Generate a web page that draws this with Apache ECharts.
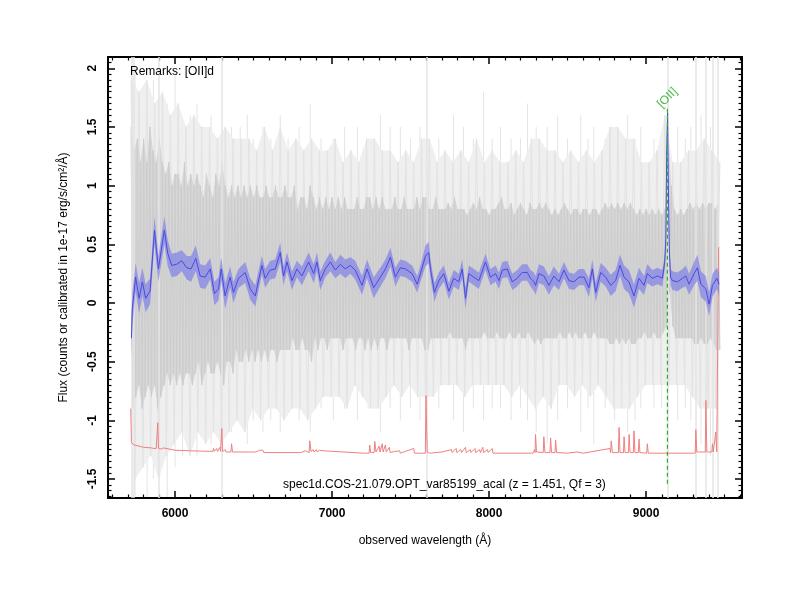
<!DOCTYPE html>
<html>
<head>
<meta charset="utf-8">
<script src="https://cdn.jsdelivr.net/npm/echarts@6/dist/echarts.min.js"></script>
<style>html,body{margin:0;padding:0;background:#fff}#c{width:800px;height:600px}</style>
</head>
<body>
<div id="c"></div>
<script>
// ---- axis ranges ----
const xRange = [5573, 9611];
const yRange = [-1.662, 2.096];

// ---- blue smoothed spectrum (wavelength, flux, 1-sigma) ----
const blueWave = [5722,5728,5749,5771,5792,5813,5841,5869,5894,5932,5954,5979,6011,6043,6075,6102,6132,6160,6192,6224,6251,6277,6294,6319,6351,6372,6404,6447,6479,6511,6553,6574,6606,6638,6670,6691,6713,6745,6776,6808,6851,6883,6904,6925,6957,6989,7021,7053,7084,7116,7148,7191,7223,7265,7308,7340,7372,7403,7435,7467,7510,7542,7563,7595,7616,7627,7652,7680,7712,7744,7775,7807,7829,7850,7871,7903,7935,7977,8009,8041,8063,8084,8116,8148,8179,8211,8243,8264,8286,8296,8318,8349,8381,8413,8445,8477,8509,8541,8573,8605,8636,8658,8679,8711,8743,8775,8806,8834,8860,8891,8923,8955,8987,9008,9040,9072,9104,9119,9126,9131,9137,9142,9148,9156,9168,9200,9232,9253,9274,9306,9327,9349,9380,9402,9423,9451,9465];
const blueFlux = [-0.30,-0.05,0.22,0.04,0.18,0.04,0.10,0.62,0.29,0.62,0.42,0.32,0.33,0.36,0.30,0.29,0.38,0.23,0.22,0.29,0.08,0.12,0.29,0.06,0.22,0.09,0.21,0.26,0.12,0.06,0.32,0.21,0.28,0.29,0.43,0.23,0.35,0.19,0.29,0.23,0.35,0.25,0.35,0.19,0.29,0.35,0.28,0.33,0.29,0.32,0.28,0.15,0.29,0.13,0.22,0.29,0.39,0.22,0.30,0.29,0.25,0.16,0.25,0.40,0.43,0.29,0.09,0.19,0.25,0.10,0.21,0.18,0.29,0.04,0.25,0.22,0.19,0.35,0.22,0.25,0.19,0.28,0.29,0.18,0.21,0.26,0.26,0.21,0.18,0.15,0.25,0.23,0.15,0.23,0.18,0.28,0.19,0.18,0.22,0.22,0.13,0.29,0.09,0.26,0.22,0.15,0.19,0.32,0.22,0.18,0.06,0.21,0.15,0.25,0.21,0.23,0.21,0.35,0.55,1.25,1.62,1.00,0.46,0.22,0.19,0.18,0.21,0.23,0.16,0.25,0.30,0.16,0.12,-0.01,0.15,0.21,0.16];
const blueErr = [0.16,0.14,0.12,0.13,0.12,0.12,0.11,0.12,0.11,0.12,0.11,0.10,0.10,0.09,0.10,0.11,0.11,0.10,0.10,0.09,0.10,0.10,0.10,0.11,0.09,0.09,0.08,0.09,0.09,0.09,0.08,0.08,0.08,0.08,0.08,0.08,0.08,0.08,0.07,0.08,0.08,0.08,0.08,0.08,0.07,0.08,0.07,0.08,0.08,0.07,0.08,0.08,0.08,0.09,0.08,0.08,0.08,0.08,0.07,0.07,0.07,0.07,0.07,0.09,0.09,0.08,0.08,0.07,0.07,0.07,0.07,0.07,0.08,0.09,0.07,0.07,0.07,0.07,0.07,0.07,0.07,0.07,0.07,0.07,0.07,0.07,0.07,0.07,0.08,0.08,0.08,0.08,0.08,0.08,0.07,0.07,0.07,0.07,0.07,0.07,0.08,0.08,0.08,0.08,0.08,0.09,0.09,0.09,0.10,0.10,0.10,0.09,0.08,0.08,0.07,0.07,0.07,0.06,0.06,0.06,0.06,0.06,0.06,0.07,0.08,0.08,0.08,0.09,0.09,0.10,0.11,0.11,0.11,0.10,0.10,0.09,0.10];

// ---- raw gray spectrum (dense core), 10 A grid from 5720 ----
const grayStart = 5720, grayStep = 10;
const grayFlux = [
1.5,-0.9,1.3,-0.8,1.4,-0.7,1.2,-0.9,1.4,-0.8,
1.2,-0.7,1.5,-0.8,1.3,-0.7,1.2,-0.9,1.4,-0.8,
1.2,-0.7,1.1,-0.6,1.2,-0.7,1.0,-0.6,1.1,-0.7,
1.1,-0.6,1.0,-0.7,1.2,-0.6,1.0,-0.6,1.1,-0.7,
1.0,-0.6,1.1,-0.5,1.0,-0.7,0.9,-0.6,1.1,-0.5,
1.0,-0.6,0.9,-0.6,1.1,-0.5,1.0,-0.6,1.2,-0.7,
1.0,-0.5,0.9,-0.5,1.0,-0.6,0.9,-0.4,1.0,-0.5,
0.9,-0.5,1.0,-0.4,0.9,-0.5,1.0,-0.4,0.9,-0.5,
1.0,-0.4,0.9,-0.5,0.9,-0.4,1.0,-0.5,0.9,-0.4,
0.9,-0.4,1.0,-0.5,0.9,-0.4,0.9,-0.4,1.0,-0.4,
0.9,-0.4,0.9,-0.3,1.0,-0.4,0.8,-0.4,0.9,-0.3,
0.9,-0.4,0.8,-0.4,1.0,-0.5,0.9,-0.3,0.8,-0.4,
0.9,-0.3,0.8,-0.3,0.9,-0.4,0.8,-0.3,0.9,-0.3,
0.8,-0.3,0.9,-0.3,0.8,-0.4,0.9,-0.3,0.8,-0.3,
0.8,-0.3,0.8,-0.4,0.9,-0.3,0.8,-0.3,0.8,-0.4,
0.9,-0.3,0.9,-0.4,0.8,-0.3,0.9,-0.4,0.8,-0.3,
0.9,-0.3,0.8,-0.4,0.8,-0.3,0.8,-0.3,0.9,-0.3,
0.8,-0.3,0.8,-0.3,0.9,-0.3,0.8,-0.4,0.8,-0.3,
0.8,-0.3,0.9,-0.3,0.8,-0.3,0.9,-0.4,0.9,-0.4,
0.8,-0.3,0.8,-0.3,0.9,-0.3,0.8,-0.3,0.8,-0.3,
0.8,-0.3,0.85,-0.25,0.8,-0.3,0.9,-0.3,0.8,-0.3,
0.8,-0.3,0.8,-0.4,0.75,-0.3,0.8,-0.3,0.85,-0.3,
0.8,-0.3,0.9,-0.3,0.8,-0.25,0.8,-0.3,0.75,-0.3,
0.8,-0.3,0.8,-0.25,0.85,-0.3,0.9,-0.3,0.8,-0.3,
0.8,-0.25,0.85,-0.3,0.75,-0.3,0.8,-0.25,0.85,-0.3,
0.8,-0.3,0.75,-0.25,0.85,-0.3,0.8,-0.35,0.8,-0.3,
0.85,-0.35,0.8,-0.3,0.85,-0.3,0.8,-0.3,0.75,-0.3,
0.8,-0.3,0.75,-0.25,0.8,-0.3,0.85,-0.3,0.8,-0.25,
0.75,-0.3,0.8,-0.25,0.8,-0.3,0.75,-0.3,0.8,-0.25,
0.8,-0.3,0.75,-0.3,0.8,-0.25,0.8,-0.3,0.75,-0.3,
0.8,-0.3,0.85,-0.3,0.8,-0.35,0.85,-0.35,0.8,-0.3,
0.85,-0.35,0.8,-0.3,0.85,-0.35,0.8,-0.3,0.85,-0.35,
0.8,-0.35,0.75,-0.3,0.8,-0.3,0.75,-0.25,0.8,-0.3,
0.75,-0.3,0.8,-0.25,0.75,-0.3,0.8,-0.3,0.75,-0.25,
0.8,-0.2,1.5,0.1,1.0,-0.2,0.8,-0.3,0.75,-0.3,
0.8,-0.3,0.75,-0.3,0.8,-0.3,0.85,-0.3,0.8,-0.35,
0.85,-0.35,0.8,-0.3,0.85,-0.35,0.8,-0.35,0.85,-0.3,
0.85,-0.35,0.8,-0.4,0.85,-0.4];

// ---- raw gray spectrum (faint outer excursions), 25 A grid from 5720 ----
const faintStart = 5720, faintStep = 25;
const faintFlux = [
1.9,-1.5,1.8,-1.4,1.9,-1.3,1.7,-1.5,1.8,-1.3,
1.6,-1.2,1.7,-1.1,1.5,-1.3,1.6,-1.1,1.5,-1.2,
1.5,-1.1,1.4,-1.2,1.5,-1.1,1.4,-1.0,1.4,-1.1,
1.4,-0.9,1.3,-1.0,1.5,-0.9,1.3,-0.9,1.5,-1.0,
1.3,-0.9,1.4,-0.9,1.3,-1.0,1.4,-0.9,1.3,-0.8,
1.3,-0.8,1.4,-0.8,1.2,-0.9,1.3,-0.7,1.2,-0.8,
1.4,-0.9,1.4,-0.9,1.3,-0.8,1.3,-0.7,1.2,-0.8,
1.3,-0.7,1.2,-0.8,1.4,-0.8,1.4,-0.8,1.2,-0.7,
1.3,-0.7,1.2,-0.7,1.3,-0.8,1.2,-0.7,1.4,-0.7,
1.2,-0.7,1.3,-0.7,1.2,-0.7,1.2,-0.8,1.3,-0.7,
1.2,-0.8,1.4,-0.9,1.4,-0.8,1.3,-0.9,1.3,-0.7,
1.2,-0.7,1.3,-0.8,1.2,-0.7,1.3,-0.8,1.2,-0.7,
1.3,-0.8,1.5,-0.9,1.5,-0.9,1.4,-0.9,1.4,-0.8,
1.2,-0.7,1.2,-0.7,1.3,-0.7,1.6,-0.7,1.2,-0.7,
1.2,-0.7,1.3,-0.8,1.3,-0.9,1.4,-0.9,1.3,-0.9,1.2];

// ---- isolated noise spikes (wavelength, top, bottom) ----
const spikeWave = [5745,5822,5862,5950,6000,6048,6096,6140,6179,6230,6360,6415,6460,6498,6560,6610,6670,6720,6790,6861,6930,7008,7080,7161,7230,7308,7370,7435,7500,7560,7680,7773,7837,7900,7965,8020,8073,8140,8200,8245,8300,8370,8437,8500,8584,8630,8667,8740,8800,8883,8930,8966,9050,9100,9202,9250,9285,9350,9410];
const spikeHi = [2.0,1.8,1.9,1.7,2.0,1.5,1.6,1.7,1.5,1.6,1.5,1.5,1.6,1.4,1.5,1.4,1.6,1.4,1.5,1.7,1.4,1.4,1.5,1.5,1.4,1.6,1.5,1.5,1.4,1.5,1.4,1.6,1.5,1.4,1.8,1.4,1.5,1.4,1.4,1.7,1.5,1.5,1.6,1.4,1.6,1.4,1.5,1.4,1.5,1.6,1.4,1.5,1.4,1.4,1.5,1.4,1.5,1.6,1.5];
const spikeLo = [-1.66,-1.66,-1.5,-1.66,-1.4,-1.3,-1.2,-1.3,-1.1,-1.2,-1.1,-1.0,-1.2,-1.0,-1.1,-1.0,-1.1,-0.9,-1.0,-1.1,-0.9,-1.0,-0.9,-1.0,-0.9,-1.1,-0.9,-1.0,-0.9,-1.0,-0.9,-1.0,-1.1,-0.9,-1.0,-0.9,-0.9,-1.0,-0.9,-1.0,-1.1,-1.2,-1.0,-0.9,-1.1,-0.9,-1.2,-0.9,-1.0,-1.1,-1.0,-0.9,-0.9,-0.9,-1.0,-0.9,-1.0,-1.2,-1.3];

// ---- sky-line residuals spanning the full plot height ----
const skyWave = [5725, 5740, 5895, 6300, 7605, 9136, 9317, 9381, 9424, 9456];

// ---- red error spectrum ----
const redWave = [5718,5722,5740,5800,5850,5860,5865,5875,5880,5886,5890,5895,5905,5910,5925,5930,6000,6100,6240,6245,6250,6265,6270,6285,6290,6294,6298,6303,6320,6325,6356,6360,6366,6500,6510,6515,6540,6545,6560,6565,6800,6830,6835,6854,6858,6866,6880,6885,6900,6905,6920,6925,6950,6955,7200,7236,7240,7246,7268,7272,7280,7300,7305,7320,7325,7340,7345,7365,7370,7400,7405,7430,7435,7520,7525,7594,7598,7606,7620,7700,7760,7765,7790,7795,7820,7825,7850,7855,7880,7885,7910,7915,7940,7945,7960,7965,7990,7995,8020,8025,8280,8290,8293,8296,8302,8345,8349,8356,8388,8392,8398,8420,8424,8430,8500,8560,8600,8770,8774,8778,8786,8824,8828,8834,8856,8860,8866,8888,8892,8898,8919,8923,8929,8951,8955,8961,9004,9008,9014,9300,9313,9317,9323,9340,9377,9381,9387,9400,9419,9423,9428,9440,9444,9450,9458,9462,9468];
const redFlux = [-0.90,-1.19,-1.21,-1.23,-1.235,-1.22,-1.24,-1.23,-1.24,-1.24,-1.02,-1.24,-1.23,-1.245,-1.235,-1.25,-1.255,-1.26,-1.265,-1.24,-1.265,-1.24,-1.265,-1.23,-1.265,-1.265,-1.07,-1.265,-1.25,-1.27,-1.27,-1.20,-1.27,-1.27,-1.255,-1.27,-1.255,-1.27,-1.255,-1.275,-1.275,-1.26,-1.275,-1.275,-1.175,-1.265,-1.25,-1.27,-1.25,-1.27,-1.255,-1.27,-1.26,-1.275,-1.28,-1.28,-1.21,-1.275,-1.275,-1.18,-1.27,-1.22,-1.27,-1.20,-1.27,-1.21,-1.27,-1.23,-1.275,-1.265,-1.28,-1.26,-1.28,-1.24,-1.28,-1.28,-0.79,-1.27,-1.28,-1.27,-1.25,-1.275,-1.24,-1.275,-1.25,-1.275,-1.23,-1.275,-1.25,-1.275,-1.24,-1.275,-1.25,-1.275,-1.23,-1.275,-1.25,-1.275,-1.24,-1.28,-1.28,-1.25,-1.275,-1.12,-1.27,-1.275,-1.14,-1.275,-1.275,-1.15,-1.275,-1.275,-1.17,-1.275,-1.28,-1.27,-1.28,-1.24,-1.275,-1.175,-1.275,-1.275,-1.06,-1.275,-1.275,-1.14,-1.275,-1.275,-1.12,-1.275,-1.275,-1.09,-1.275,-1.275,-1.16,-1.275,-1.28,-1.20,-1.28,-1.28,-1.28,-1.08,-1.27,-1.27,-1.27,-0.83,-1.27,-1.27,-1.27,-1.20,-1.27,-1.27,-1.10,-1.27,-1.27,0.47,0.47];

// ---- emission line marker ----
const lineWave = 9136;
const lineY = [-1.54, 1.67];
const lineName = '[OII]';

const remarks = 'Remarks: [OII]d';
const specTitle = 'spec1d.COS-21.079.OPT_var85199_acal (z = 1.451, Qf = 3)';
const xName = 'observed wavelength (Å)';
const yName = 'Flux (counts or calibrated in 1e-17 erg/s/cm²/Å)';

// ---- build series data ----
const grayData = grayFlux.map((v, i) => [grayStart + i * grayStep, v]);
const faintData = faintFlux.map((v, i) => [faintStart + i * faintStep, v]);
const spikeData = spikeWave.map((w, i) => [w, spikeHi[i], spikeLo[i]]);
const blueData = blueWave.map((w, i) => [w, blueFlux[i]]);
const redData = redWave.map((w, i) => [w, redFlux[i]]);

const FONT = '"Liberation Sans", Arial, Helvetica, sans-serif';
const chart = echarts.init(document.getElementById('c'), null, {renderer: 'canvas'});

function isMult(v, step) { const r = v / step; return Math.abs(r - Math.round(r)) < 1e-6; }

// polygon filling between the upper and lower excursions of a zigzag spectrum
function envelopeItem(data, fill) {
  return function (params, api) {
    const up = [], lo = [];
    data.forEach((d, i) => { (i % 2 === 0 ? up : lo).push(api.coord(d)); });
    return {type: 'polygon', shape: {points: up.concat(lo.reverse())}, style: {fill: fill, stroke: null}};
  };
}

const axisCommon = {
  axisLine: {show: true, onZero: false, lineStyle: {color: '#000', width: 2}},
  axisTick: {show: true, inside: true, length: 7, lineStyle: {color: '#000', width: 1.5}},
  minorTick: {show: true, splitNumber: 10, length: 3.5, lineStyle: {color: '#000', width: 1.2}},
  splitLine: {show: false},
  minorSplitLine: {show: false}
};

const option = {
  animation: false,
  backgroundColor: '#fff',
  grid: {left: 108, right: 58, top: 57, bottom: 102, containLabel: false},
  xAxis: [
    Object.assign({}, axisCommon, {
      type: 'value', min: xRange[0], max: xRange[1], splitNumber: 4, position: 'bottom',
      name: xName, nameLocation: 'middle', nameGap: 37,
      nameTextStyle: {fontFamily: FONT, fontSize: 12, color: '#000'},
      axisLabel: {show: true, margin: 10, color: '#000', fontFamily: FONT, fontSize: 12, fontWeight: 'bold',
        formatter: v => isMult(v, 1000) ? String(v) : ''}
    }),
    Object.assign({}, axisCommon, {
      type: 'value', min: xRange[0], max: xRange[1], splitNumber: 4, position: 'top',
      axisLabel: {show: false}
    })
  ],
  yAxis: [
    Object.assign({}, axisCommon, {
      type: 'value', min: yRange[0], max: yRange[1], splitNumber: 7, position: 'left',
      name: yName, nameLocation: 'middle', nameGap: 38, nameRotate: 90,
      nameTextStyle: {fontFamily: FONT, fontSize: 12, color: '#000'},
      axisLabel: {show: true, rotate: 90, margin: 9, color: '#000', fontFamily: FONT, fontSize: 12, fontWeight: 'bold',
        formatter: v => isMult(v, 0.5) ? String(Math.round(v * 10) / 10) : ''}
    }),
    Object.assign({}, axisCommon, {
      type: 'value', min: yRange[0], max: yRange[1], splitNumber: 7, position: 'right',
      axisLabel: {show: false}
    })
  ],
  series: [
    {
      name: 'spikes', type: 'custom', z: 0, silent: true, data: spikeData,
      renderItem: function (params, api) {
        const a = api.coord([api.value(0), api.value(1)]);
        const b = api.coord([api.value(0), api.value(2)]);
        return {type: 'line', shape: {x1: a[0], y1: a[1], x2: b[0], y2: b[1]}, style: {stroke: '#e4e4e4', lineWidth: 1}};
      }
    },
    {
      name: 'faintFill', type: 'custom', z: 1, silent: true, data: [faintData[0]],
      renderItem: envelopeItem(faintData, '#efefef')
    },
    {
      name: 'faint', type: 'line', data: faintData, showSymbol: false, symbol: 'none',
      lineStyle: {color: '#e3e3e3', width: 1}, z: 2, silent: true,
      markLine: {
        silent: true, symbol: ['none', 'none'], label: {show: false},
        lineStyle: {color: '#e4e4e4', width: 1.5, type: 'solid'},
        data: skyWave.map(w => ({xAxis: w}))
      }
    },
    {
      name: 'grayFill', type: 'custom', z: 3, silent: true, data: [grayData[0]],
      renderItem: envelopeItem(grayData, '#d7d7d7')
    },
    {
      name: 'gray', type: 'line', data: grayData, showSymbol: false, symbol: 'none',
      lineStyle: {color: '#cdcdcd', width: 1}, z: 4, silent: true
    },
    {
      name: 'err', type: 'line', data: redData, showSymbol: false, symbol: 'none',
      lineStyle: {color: '#f08080', width: 1}, z: 5, silent: true
    },
    {
      name: 'band', type: 'custom', z: 6, silent: true,
      data: [[blueWave[0], blueFlux[0]]],
      renderItem: function (params, api) {
        const pts = [];
        for (let i = 0; i < blueWave.length; i++) pts.push(api.coord([blueWave[i], blueFlux[i] + blueErr[i]]));
        for (let i = blueWave.length - 1; i >= 0; i--) pts.push(api.coord([blueWave[i], blueFlux[i] - blueErr[i]]));
        return {type: 'polygon', shape: {points: pts}, style: {fill: 'rgba(118,118,236,0.62)', stroke: null}};
      }
    },
    {
      name: 'flux', type: 'line', data: blueData, showSymbol: false, symbol: 'none',
      lineStyle: {color: '#4a4ade', width: 1}, z: 7, silent: true
    },
    {
      name: 'oii', type: 'line', data: [[lineWave, lineY[0]], [lineWave, lineY[1]]], showSymbol: false, symbol: 'none',
      lineStyle: {color: '#2bb02b', width: 1.2, type: [4, 3]}, z: 8, silent: true
    },
    {
      name: 'oiiLabel', type: 'scatter', data: [[lineWave, lineY[1]]], symbolSize: 0.1, z: 9, silent: true,
      itemStyle: {color: 'rgba(0,0,0,0)'},
      label: {show: true, formatter: lineName, position: [-8, -1], rotate: 45, align: 'left', verticalAlign: 'middle',
        color: '#22aa22', fontFamily: FONT, fontSize: 12}
    }
  ],
  graphic: [
    {type: 'text', left: 130, top: 66, z: 100, style: {text: remarks, font: '12px ' + FONT, fill: '#000'}},
    {type: 'text', left: 283, top: 479, z: 100, style: {text: specTitle, font: '12px ' + FONT, fill: '#000'}}
  ]
};
chart.setOption(option);
</script>
</body>
</html>
